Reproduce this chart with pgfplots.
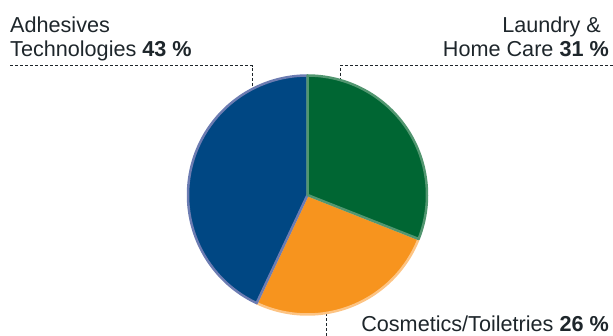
\documentclass[border=0pt]{standalone}
\usepackage{pgfplots}
\pgfplotsset{compat=1.18}
\usepackage{fontspec}
\setmainfont{Liberation Sans}
\definecolor{cblue}{RGB}{0,71,131}
\definecolor{cbluel}{RGB}{108,124,178}
\definecolor{cgreen}{RGB}{0,102,51}
\definecolor{cgreenl}{RGB}{82,150,112}
\definecolor{corange}{RGB}{247,148,30}
\definecolor{corangel}{RGB}{253,196,132}
\definecolor{ctext}{RGB}{30,38,43}
\tikzset{lbl/.style={font=\fontsize{21.7}{25}\selectfont, text=ctext, inner sep=0pt}}
\begin{document}
\begin{tikzpicture}
\useasboundingbox (0,0) rectangle (613bp,336bp);
% shares in percent
\def\vLaundry{31}
\def\vCosmetics{26}
\def\vAdhesives{43}
\pgfmathsetmacro{\aA}{90}
\pgfmathsetmacro{\aB}{90-3.6*\vLaundry}
\pgfmathsetmacro{\aC}{\aB-3.6*\vCosmetics}
\pgfmathsetmacro{\aD}{\aC-3.6*\vAdhesives}
\begin{axis}[
  anchor=south west, at={(0,0)},
  width=613bp, height=336bp, scale only axis,
  xmin=0, xmax=613, ymin=0, ymax=336,
  hide axis, clip=false,
]
% leader lines
\addplot[ctext, line width=1bp, dash pattern=on 3bp off 2bp] coordinates {(10,270.3) (252.7,270.3) (252.7,245)};
\addplot[ctext, line width=1bp, dash pattern=on 3bp off 2bp] coordinates {(613,270.3) (340,270.3) (340,255)};
\addplot[ctext, line width=1bp, dash pattern=on 3bp off 2bp] coordinates {(326,0) (326,25)};
% pie slices
\addplot[fill=corange, draw=corangel, line width=2.5bp, line join=round, domain=\aB:\aC, samples=90, variable=\t]
  ({307.5+119.5*cos(\t)},{141+119.5*sin(\t)}) -- (axis cs:307.5,141) -- cycle;
\addplot[fill=cblue, draw=cbluel, line width=2.5bp, line join=round, domain=\aC:\aD, samples=120, variable=\t]
  ({307.5+119.5*cos(\t)},{141+119.5*sin(\t)}) -- (axis cs:307.5,141) -- cycle;
\addplot[fill=cgreen, draw=cgreenl, line width=2.5bp, line join=round, domain=\aA:\aB, samples=90, variable=\t]
  ({307.5+119.5*cos(\t)},{141+119.5*sin(\t)}) -- (axis cs:307.5,141) -- cycle;
% labels
\node[lbl, anchor=base west] at (axis cs:10,303.7) {Adhesives};
\node[lbl, anchor=base west] at (axis cs:10,279.3) {Technologies \textbf{43 \%}};
\node[lbl, anchor=base east] at (axis cs:601,303.7) {Laundry \&};
\node[lbl, anchor=base east] at (axis cs:609,279.3) {Home Care \textbf{31 \%}};
\node[lbl, anchor=base east] at (axis cs:609,4.3) {Cosmetics/Toiletries \textbf{26 \%}};
\end{axis}
\end{tikzpicture}
\end{document}
